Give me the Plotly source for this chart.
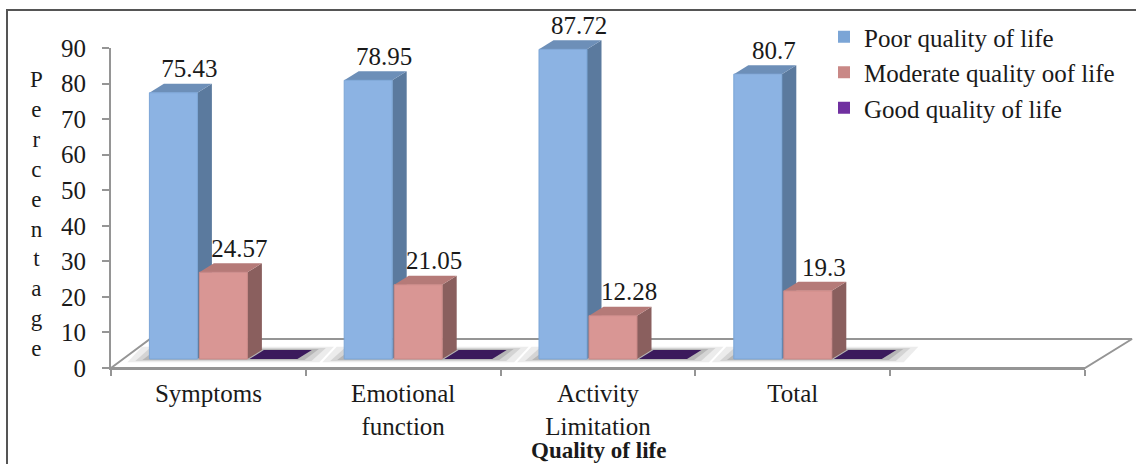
import plotly.graph_objects as go

categories = ["Symptoms", "Emotional<br>function", "Activity<br>Limitation", "Total"]
poor = [75.43, 78.95, 87.72, 80.7]
moderate = [24.57, 21.05, 12.28, 19.3]
good = [0, 0, 0, 0]
poor_labels = ["75.43", "78.95", "87.72", "80.7"]
moderate_labels = ["24.57", "21.05", "12.28", "19.3"]
yticks = list(range(0, 100, 10))

W, H = 1136, 464
FONT = "Liberation Serif"
L, R, T, B = 111, 1085, 48, 368
CAT_PX = (R - L) / 5
YPX = 3.53                 # px per value unit of the bars
BASE_PX = 359              # pixel row of the bars' baseline
AXPX = (B - T) / 90        # px per unit of the visible axis
DX, DY = 14.5 / CAT_PX, 9 / YPX
BAR_W = 48 / CAT_PX
TXT = "#1a1a1a"
AXC = "#959595"
# wide hidden plot area, so the 3D depth can leave the visible axes
BL, BR, BT, BB = L - 3, W, 14, B + 3
big_x = [(BL - L) / CAT_PX, (BR - L) / CAT_PX]
big_y = [(B - BB) / AXPX, (B - BT) / AXPX]
bar_y = [(BASE_PX - BB) / YPX, (BASE_PX - BT) / YPX]


def px_x(p):
    return p / W


def px_y(p):
    return 1 - p / H


series = [
    ("Poor quality of life", poor, poor_labels, -35 / CAT_PX, "#8cb3e3", "#5b7a9e", "#6d8fb8", "#7ba5d6"),
    ("Moderate quality oof life", moderate, moderate_labels, 15 / CAT_PX, "#d99694", "#8a5f5e", "#b57a78", "#c98886"),
    ("Good quality of life", good, [""] * 4, 65 / CAT_PX, "#3b1a5c", "#3b1a5c", "#3b1a5c", "#7030a0"),
]

fig = go.Figure()

# floor of the 3D chart
back_left = 39 / CAT_PX
back_right = 47 / CAT_PX
floor_h = 29 / AXPX
fig.add_trace(go.Scatter(
    x=[0, 5, 5 + back_right, back_left, 0], y=[0, 0, floor_h, floor_h, 0],
    mode="lines", line=dict(color=AXC, width=2), fill="toself", fillcolor="white",
    showlegend=False, hoverinfo="skip"))

# soft shadow under each bar group
for i in range(len(categories)):
    x0 = i + 0.5 - 59 / CAT_PX
    x1 = i + 0.5 + 89 / CAT_PX
    for grow, col in ((22, "rgba(170,170,170,0.22)"), (14, "rgba(150,150,150,0.28)"), (7, "rgba(125,125,125,0.35)")):
        g = grow / CAT_PX
        ylo = (9 - grow * 0.15) / AXPX
        yhi = (18 + grow * 0.15) / AXPX
        fig.add_trace(go.Scatter(
            x=[x0 - g, x1 + g, x1 + g + DX, x0 - g + DX, x0 - g], y=[ylo, ylo, yhi, yhi, ylo],
            mode="lines", line=dict(width=0), fill="toself", fillcolor=col,
            showlegend=False, hoverinfo="skip"))

# sides and tops (y2), fronts above them (y3)
for name, vals, labels, off, front, side, top, swatch in series:
    xs = [i + 0.5 + off for i in range(len(vals))]
    for xc, v in zip(xs, vals):
        xl, xr = xc - BAR_W / 2, xc + BAR_W / 2
        if v > 0:
            fig.add_trace(go.Scatter(
                x=[xr, xr + DX, xr + DX, xr, xr], y=[0, DY, v + DY, v, 0], yaxis="y2",
                mode="lines", line=dict(width=0), fill="toself", fillcolor=side,
                showlegend=False, hoverinfo="skip"))
        fig.add_trace(go.Scatter(
            x=[xl, xr, xr + DX, xl + DX, xl], y=[v, v, v + DY, v + DY, v], yaxis="y2",
            mode="lines", line=dict(width=0), fill="toself", fillcolor=top,
            showlegend=False, hoverinfo="skip"))

for name, vals, labels, off, front, side, top, swatch in series:
    xs = [i + 0.5 + off for i in range(len(vals))]
    if max(vals) > 0:
        fig.add_trace(go.Bar(
            x=xs, y=vals, width=BAR_W, yaxis="y3", name=name, showlegend=False,
            marker=dict(color=front, line=dict(color=swatch, width=1))))
        fig.add_trace(go.Scatter(
            x=[x + 16 / CAT_PX for x in xs], y=[v + DY for v in vals], yaxis="y3",
            mode="text", text=labels, textposition="top center",
            textfont=dict(family=FONT, size=25, color=TXT),
            cliponaxis=False, showlegend=False, hoverinfo="skip"))

# legend entries; also anchors the visible axes
for name, vals, labels, off, front, side, top, swatch in series:
    fig.add_trace(go.Scatter(
        x=[None], y=[None], xaxis="x2", yaxis="y4", mode="markers", name=name,
        marker=dict(symbol="square", size=12, color=swatch)))

fig.add_annotation(text="<br>".join("Percentage"), xref="paper", yref="paper",
                   x=px_x(36), y=px_y(214), xanchor="center", yanchor="middle", showarrow=False,
                   font=dict(family=FONT, size=23, color=TXT), align="center")
fig.add_annotation(text="<b>Quality of life</b>", xref="paper", yref="paper",
                   x=px_x(598), y=px_y(450), xanchor="center", yanchor="middle", showarrow=False,
                   font=dict(family=FONT, size=23, color=TXT))

fig.add_shape(type="rect", xref="paper", yref="paper",
              x0=px_x(7), x1=px_x(W + 10), y0=px_y(H + 10), y1=px_y(10),
              line=dict(color="#555555", width=2), layer="below")

tick_font = dict(family=FONT, size=25, color=TXT)
hidden = dict(visible=False, showgrid=False, zeroline=False)
fig.update_layout(
    width=W, height=H, autosize=False, barmode="overlay",
    paper_bgcolor="white", plot_bgcolor="rgba(0,0,0,0)",
    margin=dict(l=0, r=0, t=0, b=0, pad=0, autoexpand=False),
    # hidden axes for the 3D marks
    xaxis=dict(domain=[px_x(BL), px_x(BR)], range=big_x, anchor="y", **hidden),
    yaxis=dict(domain=[px_y(BB), px_y(BT)], range=big_y, anchor="x", **hidden),
    yaxis2=dict(range=bar_y, overlaying="y", anchor="x", **hidden),
    yaxis3=dict(range=bar_y, overlaying="y", anchor="x", **hidden),
    # visible axes
    xaxis2=dict(domain=[px_x(L), px_x(R)], range=[0, 5], anchor="y4",
                tickvals=[i + 0.5 for i in range(len(categories))], ticktext=categories,
                ticks="", showgrid=False, zeroline=False, showline=True, linecolor=AXC, linewidth=2,
                tickfont=tick_font, ticklabelstandoff=2,
                minor=dict(tickvals=list(range(6)), ticks="outside", ticklen=6, tickcolor=AXC, tickwidth=2)),
    yaxis4=dict(domain=[px_y(B), px_y(T)], range=[0, 90], anchor="x2", tickvals=yticks,
                ticks="outside", ticklen=7, tickcolor=AXC, tickwidth=2, ticklabelstandoff=11,
                showgrid=False, zeroline=False, showline=True, linecolor=AXC, linewidth=2, tickfont=tick_font),
    legend=dict(x=px_x(824), y=px_y(14), xanchor="left", yanchor="top",
                font=dict(family=FONT, size=25, color=TXT), bgcolor="rgba(0,0,0,0)"),
)
fig.write_html("out.html", config=dict(displayModeBar=False),
               post_script="document.body.style.margin='0';")
